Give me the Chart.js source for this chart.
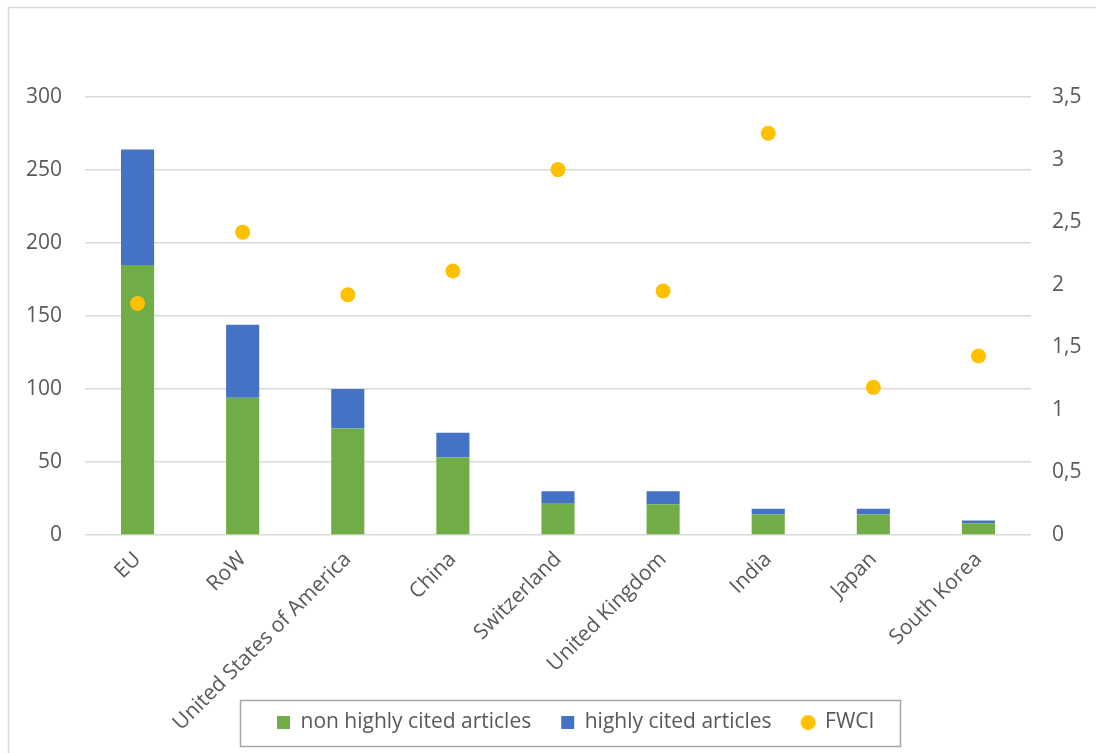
<!DOCTYPE html>
<html>
<head>
<meta charset="utf-8">
<script src="https://cdn.jsdelivr.net/npm/chart.js@4/dist/chart.umd.min.js"></script>
<style>
  html, body { margin: 0; padding: 0; background: #ffffff; }
  #wrap { position: relative; width: 1096px; height: 753px; }
</style>
</head>
<body>
<div id="wrap"><canvas id="chart"></canvas></div>
<script>
// Countries / regions on the category axis
const categories = ['EU', 'RoW', 'United States of America', 'China', 'Switzerland',
                    'United Kingdom', 'India', 'Japan', 'South Korea'];
// Article counts (stacked bars, left axis)
const nonHighlyCited = [185, 94, 73, 53, 22, 21, 14, 14, 8];
const highlyCited    = [79, 50, 27, 17, 8, 9, 4, 4, 2];
// Field-weighted citation impact (dots, right axis)
const fwci = [1.85, 2.42, 1.92, 2.11, 2.92, 1.95, 3.21, 1.18, 1.43];
// Axis ticks
const leftTicks = [0, 50, 100, 150, 200, 250, 300];
const rightTicks = [0, 0.5, 1, 1.5, 2, 2.5, 3, 3.5];

const TEXT = '#595959';
const GRID = '#d9d9d9';
const FONT = "'Open Sans', 'Liberation Sans', sans-serif";
const FSIZE = 21;

// Round legend marker for the FWCI series
const dot = document.createElement('canvas');
dot.width = 16; dot.height = 16;
(function () {
  const c = dot.getContext('2d');
  c.fillStyle = '#FFC000';
  c.beginPath();
  c.arc(8, 8, 7.5, 0, Math.PI * 2);
  c.fill();
})();

// Left edge of the first legend marker
const LEGEND_START = 277;

// Outer frame and a framed legend
const framePlugin = {
  id: 'frames',
  afterUpdate(chart) {
    const lg = chart.legend;
    const boxes = lg.legendHitBoxes;
    if (!boxes || !boxes.length) return;
    const dx = LEGEND_START - boxes[0].left;
    lg.left += dx;
    lg.right += dx;
    boxes.forEach(h => { h.left += dx; });
  },
  afterDraw(chart) {
    const ctx = chart.ctx;
    ctx.save();
    ctx.strokeStyle = GRID;
    ctx.lineWidth = 1.5;
    ctx.strokeRect(8.5, 7.5, 1200, 800);
    const boxes = chart.legend.legendHitBoxes;
    if (boxes && boxes.length) {
      let l = Infinity, r = -Infinity, t = Infinity, b = -Infinity;
      boxes.forEach(h => {
        l = Math.min(l, h.left); r = Math.max(r, h.left + h.width);
        t = Math.min(t, h.top); b = Math.max(b, h.top + h.height);
      });
      const cy = (t + b) / 2;
      ctx.strokeStyle = '#a6a6a6';
      ctx.lineWidth = 1.5;
      ctx.strokeRect(Math.round(l - 37) + 0.5, Math.round(cy - 23) + 0.5,
                     Math.round(r - l + 37 + 26), 46);
    }
    ctx.restore();
  }
};

new Chart(document.getElementById('chart'), {
  data: {
    labels: categories,
    datasets: [
      {
        type: 'bar',
        label: 'non highly cited articles',
        data: nonHighlyCited,
        backgroundColor: '#70AD47',
        yAxisID: 'y',
        order: 1,
        pointStyle: 'rect',
        categoryPercentage: 1,
        barPercentage: 0.315
      },
      {
        type: 'bar',
        label: 'highly cited articles',
        data: highlyCited,
        backgroundColor: '#4472C4',
        yAxisID: 'y',
        order: 1,
        pointStyle: 'rect',
        categoryPercentage: 1,
        barPercentage: 0.315
      },
      {
        type: 'line',
        label: 'FWCI',
        data: fwci,
        showLine: false,
        yAxisID: 'y1',
        order: 0,
        pointStyle: 'circle',
        pointRadius: 7.5,
        pointHoverRadius: 7.5,
        pointBackgroundColor: '#FFC000',
        pointBorderWidth: 0,
        backgroundColor: '#FFC000',
        borderColor: '#FFC000'
      }
    ]
  },
  options: {
    responsive: true,
    maintainAspectRatio: false,
    animation: false,
    events: [],
    layout: { padding: { top: 97, left: 0, right: 0, bottom: 10 } },
    scales: {
      x: {
        stacked: true,
        grid: { display: false },
        border: { display: false },
        ticks: {
          color: TEXT,
          font: { family: FONT, size: FSIZE },
          minRotation: 45,
          maxRotation: 45,
          autoSkip: false,
          padding: 4
        },
        afterFit(scale) {
          scale.height = 147;
          // long rotated names run past the axis box; keep them whole
          scale._computeLabelArea = () => undefined;
        }
      },
      y: {
        stacked: true,
        position: 'left',
        min: 0,
        max: 300,
        afterBuildTicks(scale) { scale.ticks = leftTicks.map(v => ({ value: v })); },
        grid: { color: GRID, lineWidth: 1.5, drawTicks: false },
        border: { display: false },
        ticks: {
          color: TEXT,
          font: { family: FONT, size: FSIZE },
          padding: 23
        },
        afterFit(scale) { scale.width = 85; }
      },
      y1: {
        position: 'right',
        min: 0,
        max: 3.5,
        afterBuildTicks(scale) { scale.ticks = rightTicks.map(v => ({ value: v })); },
        grid: { display: false, drawTicks: false },
        border: { display: false },
        ticks: {
          color: TEXT,
          font: { family: FONT, size: FSIZE },
          padding: 21,
          callback: v => String(v).replace('.', ',')
        },
        afterFit(scale) { scale.width = 65; }
      }
    },
    plugins: {
      tooltip: { enabled: false },
      legend: {
        position: 'bottom',
        labels: {
          color: TEXT,
          font: { family: FONT, size: FSIZE },
          usePointStyle: true,
          boxWidth: 13,
          boxHeight: 13,
          padding: 30,
          generateLabels(chart) {
            const items = Chart.defaults.plugins.legend.labels.generateLabels(chart);
            items.sort((a, b) => a.datasetIndex - b.datasetIndex);
            items.forEach(it => {
              if (it.text === 'FWCI') it.pointStyle = dot;
            });
            return items;
          }
        }
      }
    }
  },
  plugins: [framePlugin]
});
</script>
</body>
</html>
